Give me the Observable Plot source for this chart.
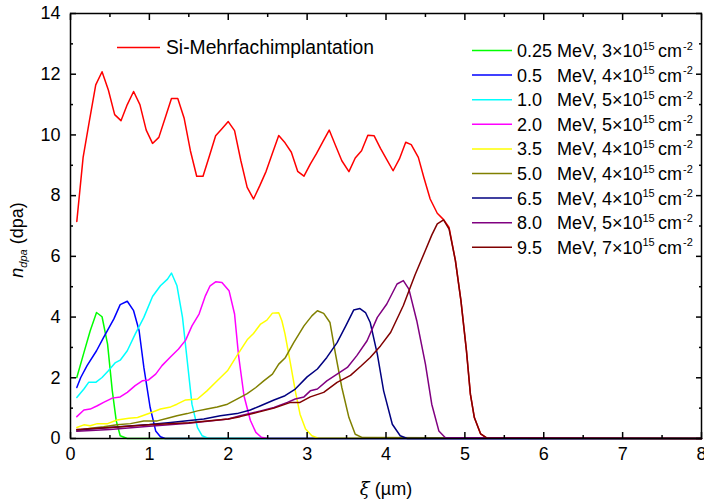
<!DOCTYPE html>
<html>
<head>
<meta charset="utf-8">
<script src="https://cdn.jsdelivr.net/npm/d3@7"></script>
<script src="https://cdn.jsdelivr.net/npm/@observablehq/plot@0.6"></script>
<style>
  html, body { margin: 0; padding: 0; background: #fff; overflow: hidden; }
  #chart { width: 704px; height: 504px; }
  #chart svg { display: block; font-family: "Liberation Sans", Arial, sans-serif; }
</style>
</head>
<body>
<div id="chart"></div>
<script>
// ---- data ----
const siX = [0.08,0.16,0.24,0.32,0.40,0.48,0.56,0.64,0.72,0.80,0.88,0.96,1.04,1.12,1.20,1.28,1.36,1.44,1.52,1.60,1.68,1.76,1.84,1.92,2.00,2.08,2.16,2.24,2.32,2.40,2.48,2.56,2.64,2.72,2.80,2.88,2.96,3.04,3.12,3.20,3.28,3.36,3.44,3.53,3.61,3.69,3.77,3.85,3.93,4.01,4.09,4.17,4.25,4.32,4.41,4.48,4.56,4.65,4.73,4.80,4.88,4.95,5.02,5.07,5.12,5.20,5.28,8.0];
const siY = [7.15,9.26,10.47,11.65,12.08,11.48,10.67,10.47,11.0,11.43,11.0,10.16,9.72,9.92,10.56,11.2,11.2,10.56,9.48,8.64,8.64,9.3,9.97,10.2,10.44,10.14,9.15,8.27,7.89,8.33,8.8,9.4,9.98,9.74,9.43,8.8,8.64,9.04,9.39,9.78,10.16,9.65,9.15,8.79,9.24,9.48,9.99,9.97,9.56,9.19,8.82,9.21,9.76,9.68,9.26,8.6,7.89,7.42,7.21,6.95,5.86,4.54,2.89,1.46,0.69,0.15,0.01,0];

const e025X = [0.08,0.17,0.25,0.33,0.40,0.47,0.53,0.58,0.63,0.72,8.0];
const e025Y = [2.01,2.83,3.55,4.15,4.01,3.11,1.57,0.58,0.09,0,0];
const e05X = [0.08,0.13,0.21,0.33,0.42,0.55,0.63,0.72,0.80,0.87,0.93,1.01,1.08,1.14,1.20,8.0];
const e05Y = [1.68,2.01,2.40,2.89,3.33,3.94,4.41,4.52,4.21,3.55,2.34,1.02,0.25,0.06,0,0];
const e10X = [0.08,0.17,0.23,0.32,0.40,0.48,0.57,0.63,0.72,0.82,0.93,1.04,1.14,1.23,1.28,1.35,1.42,1.48,1.54,1.61,1.67,1.75,8.0];
const e10Y = [1.35,1.63,1.85,1.85,2.01,2.23,2.50,2.58,2.89,3.44,3.99,4.68,5.03,5.25,5.45,5.03,3.99,2.56,1.13,0.36,0.09,0,0];
const e20X = [0.08,0.17,0.25,0.34,0.42,0.53,0.63,0.72,0.82,0.91,0.99,1.08,1.16,1.27,1.37,1.46,1.54,1.63,1.71,1.77,1.84,1.92,2.01,2.08,2.13,2.20,2.28,2.35,2.42,2.50,8.0];
const e20Y = [0.72,0.94,0.97,1.08,1.19,1.33,1.37,1.52,1.74,1.90,1.93,2.12,2.40,2.69,2.95,3.24,3.71,4.10,4.70,5.03,5.16,5.14,4.87,4.10,2.75,1.40,0.60,0.20,0.04,0,0];
const e35X = [0.08,0.17,0.25,0.34,0.47,0.59,0.74,0.85,1.01,1.14,1.27,1.35,1.46,1.61,1.73,1.86,1.99,2.11,2.24,2.32,2.41,2.49,2.56,2.64,2.68,2.72,2.79,2.85,2.91,2.98,3.06,3.14,8.0];
const e35Y = [0.36,0.45,0.42,0.49,0.49,0.61,0.67,0.69,0.84,0.97,1.04,1.13,1.27,1.30,1.57,1.90,2.23,2.73,3.25,3.46,3.77,3.90,4.13,4.14,3.88,3.44,2.45,1.57,0.80,0.31,0.09,0.01,0];
const e50X = [0.08,0.25,0.42,0.59,0.76,0.93,1.10,1.23,1.35,1.48,1.61,1.73,1.86,1.99,2.11,2.24,2.35,2.45,2.56,2.64,2.72,2.83,2.96,3.06,3.13,3.21,3.29,3.36,3.44,3.53,3.61,3.70,8.0];
const e50Y = [0.25,0.34,0.39,0.45,0.49,0.58,0.58,0.67,0.75,0.82,0.91,0.97,1.04,1.13,1.30,1.48,1.68,1.90,2.12,2.45,2.65,3.16,3.71,4.04,4.21,4.12,3.82,2.78,1.68,0.69,0.14,0.03,0];
const e65X = [0.08,0.50,1.00,1.27,1.69,1.90,2.11,2.28,2.41,2.58,2.72,2.85,3.00,3.13,3.25,3.38,3.49,3.59,3.67,3.74,3.80,3.89,3.97,4.08,4.18,4.27,8.0];
const e65Y = [0.28,0.36,0.46,0.53,0.64,0.75,0.82,0.94,1.08,1.27,1.41,1.63,2.03,2.29,2.67,3.16,3.71,4.23,4.28,4.15,3.82,2.78,1.57,0.47,0.09,0,0];
const e80X = [0.08,0.50,1.00,1.50,2.00,2.15,2.41,2.58,2.75,2.85,2.96,3.04,3.13,3.25,3.38,3.51,3.63,3.76,3.89,4.01,4.14,4.22,4.29,4.39,4.50,4.58,4.67,4.75,8.0];
const e80Y = [0.24,0.30,0.40,0.50,0.64,0.75,0.91,1.02,1.19,1.30,1.37,1.57,1.63,1.90,2.12,2.34,2.73,3.22,3.99,4.43,5.09,5.20,4.92,3.88,2.45,1.13,0.25,0.03,0];
const e95X = [0.08,0.50,1.00,1.50,2.00,2.15,2.37,2.58,2.79,2.91,3.04,3.21,3.38,3.55,3.68,3.80,3.93,4.06,4.22,4.37,4.50,4.58,4.65,4.73,4.80,4.88,4.95,5.02,5.07,5.12,5.20,5.28,8.0];
const e95Y = [0.30,0.36,0.45,0.52,0.64,0.72,0.86,1.00,1.19,1.19,1.37,1.52,1.85,2.08,2.38,2.67,3.05,3.50,4.38,5.40,6.20,6.70,7.07,7.20,6.90,5.86,4.54,2.89,1.46,0.69,0.15,0.01,0];

const seriesNames = ["0.25","0.5","1.0","2.0","3.5","5.0","6.5","8.0","9.5"];
const seriesDose = ["3","4","5","5","4","4","4","5","7"];
const seriesColors = ["#00ff00","#0000ff","#00ffff","#ff00ff","#ffff00","#808000","#000080","#800080","#800000"];
const seriesXs = [e025X,e05X,e10X,e20X,e35X,e50X,e65X,e80X,e95X];
const seriesYs = [e025Y,e05Y,e10Y,e20Y,e35Y,e50Y,e65Y,e80Y,e95Y];
const siName = "Si-Mehrfachimplantation";

const xTicks = [0,1,2,3,4,5,6,7,8];
const xMinor = [0.5,1.5,2.5,3.5,4.5,5.5,6.5,7.5];
const yTicks = [0,2,4,6,8,10,12,14];
const yMinor = [1,3,5,7,9,11,13];

// ---- build ----
const siData = siX.map((x, i) => ({x, y: siY[i]}));
const lineMarks = seriesNames.map((name, k) =>
  Plot.line(seriesXs[k].map((x, i) => ({x, y: seriesYs[k][i]})),
    {x: "x", y: "y", stroke: seriesColors[k], strokeWidth: 1.5})
);

const blank = () => "";
const chart = Plot.plot({
  width: 704,
  height: 504,
  marginLeft: 70,
  marginRight: 3,
  marginTop: 13,
  marginBottom: 66,
  style: {fontFamily: "'Liberation Sans', Arial, sans-serif", fontSize: "18px", color: "#000", background: "#fff", overflow: "visible"},
  x: {domain: [0, 8]},
  y: {domain: [0, 14]},
  marks: [
    Plot.line(siData, {x: "x", y: "y", stroke: "#ff0000", strokeWidth: 1.5}),
    ...lineMarks,
    Plot.axisX(xTicks, {anchor: "bottom", tickSize: -6, tickPadding: 15, strokeWidth: 1.5, label: null, fontSize: 18}),
    Plot.axisX(xMinor, {anchor: "bottom", tickSize: -3, tickFormat: blank, strokeWidth: 1.5, label: null}),
    Plot.axisX(xTicks, {anchor: "top", tickSize: -6, tickFormat: blank, strokeWidth: 1.5, label: null}),
    Plot.axisX(xMinor, {anchor: "top", tickSize: -3, tickFormat: blank, strokeWidth: 1.5, label: null}),
    Plot.axisY(yTicks, {anchor: "left", tickSize: -6, tickPadding: 16, strokeWidth: 1.5, label: null, fontSize: 18}),
    Plot.axisY(yMinor, {anchor: "left", tickSize: -3, tickFormat: blank, strokeWidth: 1.5, label: null}),
    Plot.axisY(yTicks, {anchor: "right", tickSize: -6, tickFormat: blank, strokeWidth: 1.5, label: null}),
    Plot.axisY(yMinor, {anchor: "right", tickSize: -3, tickFormat: blank, strokeWidth: 1.5, label: null}),
    Plot.frame({stroke: "#000", strokeWidth: 1.5})
  ]
});
document.getElementById("chart").appendChild(chart);

// ---- annotations: axis titles and legend ----
const svg = d3.select(chart);
const ff = "'Liberation Sans', Arial, sans-serif";

// y title
const yt = svg.append("text")
  .attr("transform", "translate(23,240) rotate(-90)")
  .attr("text-anchor", "middle")
  .style("font-family", ff).style("font-size", "18px").attr("fill", "#000");
yt.append("tspan").attr("font-style", "italic").text("n");
yt.append("tspan").attr("font-style", "italic").style("font-size", "11px").attr("dy", 4).text("dpa");
yt.append("tspan").attr("dy", -4).text(" (dpa)");

// x title
const xt = svg.append("text")
  .attr("x", 386).attr("y", 495)
  .attr("text-anchor", "middle")
  .style("font-family", ff).style("font-size", "18px").attr("fill", "#000");
xt.append("tspan").attr("font-style", "italic").style("font-family", "'DejaVu Serif', serif").text("ξ");
xt.append("tspan").text(" (µm)");

// Si legend
const lg = svg.append("g").attr("text-anchor", "start")
  .style("font-family", ff).style("font-size", "18px").attr("fill", "#000");
lg.append("line").attr("x1", 117).attr("x2", 160).attr("y1", 47.5).attr("y2", 47.5)
  .attr("stroke", "#ff0000").attr("stroke-width", 1.5);
lg.append("text").attr("x", 166).attr("y", 54).style("font-size", "19.3px").text(siName);

// energies legend
seriesNames.forEach((name, k) => {
  const cy = 50.5 + k * 24.6;
  lg.append("line").attr("x1", 472).attr("x2", 512).attr("y1", cy).attr("y2", cy)
    .attr("stroke", seriesColors[k]).attr("stroke-width", 1.5);
  const by = cy + 6.5;
  lg.append("text").attr("x", 517).attr("y", by).text(name);
  lg.append("text").attr("x", 557).attr("y", by).text("MeV,");
  lg.append("text").attr("x", 602).attr("y", by).text(seriesDose[k] + "×10");
  lg.append("text").attr("x", 642.5).attr("y", by - 7.5).style("font-size", "11px").text("15");
  lg.append("text").attr("x", 658).attr("y", by).text("cm");
  lg.append("text").attr("x", 683).attr("y", by - 7.5).style("font-size", "11px").text("-2");
});
</script>
</body>
</html>
